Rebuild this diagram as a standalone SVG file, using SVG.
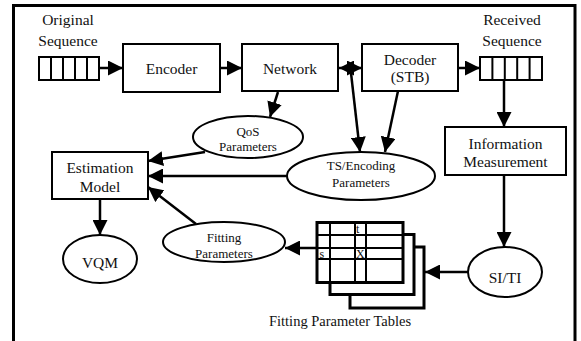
<svg xmlns="http://www.w3.org/2000/svg" width="581" height="341" viewBox="0 0 581 341">
<defs>
<marker id="ah" markerUnits="userSpaceOnUse" markerWidth="16" markerHeight="15" refX="15" refY="7.5" orient="auto-start-reverse">
<path d="M0,0 L15,7.5 L0,15 z" fill="#000"/>
</marker>
<style>
text{font-family:"Liberation Serif","Times New Roman",serif;fill:#111;text-anchor:middle}
.l{font-size:15.5px}
.s{font-size:13px}
.c{font-size:14.5px}
.g{font-size:12px;text-anchor:start}
.box{fill:#fff;stroke:#000;stroke-width:2}
.el{fill:#fff;stroke:#000;stroke-width:2}
.tb{fill:#fff;stroke:#000;stroke-width:3}
.gr{stroke:#000;stroke-width:2;fill:none}
.cn{stroke:#000;stroke-width:2.5;fill:none;marker-end:url(#ah)}
</style>
</defs>
<rect x="0" y="0" width="581" height="341" fill="#fff"/>
<rect x="13.5" y="5.5" width="561.5" height="340" fill="none" stroke="#000" stroke-width="3"/>

<g id="connectors">
<line class="cn" x1="99" y1="68" x2="123" y2="68"/>
<line class="cn" x1="220" y1="68" x2="242" y2="68"/>
<line class="cn" x1="339" y1="68" x2="362" y2="68" style="marker-start:url(#ah)"/>
<line class="cn" x1="458" y1="68" x2="480" y2="68"/>
<line class="cn" x1="504" y1="80" x2="504" y2="127"/>
<line class="cn" x1="504" y1="175" x2="504" y2="247"/>
<line class="cn" x1="351" y1="73" x2="360" y2="152"/>
<line class="cn" x1="398" y1="91" x2="385" y2="152"/>
<line class="cn" x1="278" y1="92" x2="270" y2="117"/>
<line class="cn" x1="205" y1="152" x2="148" y2="161"/>
<line class="cn" x1="287" y1="176" x2="148" y2="176"/>
<line class="cn" x1="196" y1="224" x2="148" y2="187"/>
<line class="cn" x1="100" y1="199" x2="100" y2="235"/>
<line class="cn" x1="318" y1="248" x2="285" y2="248"/>
<line class="cn" x1="468" y1="272" x2="425" y2="272"/>
</g>

<g id="original-sequence">
<text class="l" x="68" y="25">Original</text>
<text class="l" x="68" y="46">Sequence</text>
<rect class="box" x="39" y="57" width="60" height="23"/>
<path class="gr" d="M51,57V80M63,57V80M75,57V80M87,57V80"/>
</g>

<g id="encoder">
<rect class="box" x="123" y="44" width="97" height="48"/>
<text class="l" x="171.5" y="74">Encoder</text>
</g>

<g id="network">
<rect class="box" x="242" y="44" width="96" height="47"/>
<text class="l" x="290" y="74">Network</text>
</g>

<g id="decoder">
<rect class="box" x="362" y="44" width="96" height="47"/>
<text class="l" x="410" y="65">Decoder</text>
<text class="l" x="410" y="82">(STB)</text>
</g>

<g id="received-sequence">
<text class="l" x="512" y="25">Received</text>
<text class="l" x="512" y="46">Sequence</text>
<rect class="box" x="480" y="57" width="62" height="23"/>
<path class="gr" d="M492.4,57V80M504.8,57V80M517.2,57V80M529.6,57V80"/>
</g>

<g id="information-measurement">
<rect class="box" x="445" y="127" width="121" height="48"/>
<text class="l" x="505.5" y="149">Information</text>
<text class="l" x="505.5" y="167">Measurement</text>
</g>

<g id="qos-parameters">
<ellipse class="el" cx="248" cy="137" rx="55" ry="21"/>
<text class="s" x="248" y="136">QoS</text>
<text class="s" x="248" y="151">Parameters</text>
</g>

<g id="ts-encoding-parameters">
<ellipse class="el" cx="361" cy="176" rx="74" ry="24"/>
<text class="s" x="361" y="170">TS/Encoding</text>
<text class="s" x="361" y="187">Parameters</text>
</g>

<g id="estimation-model">
<rect class="box" x="52" y="152" width="96" height="47"/>
<text class="l" x="100" y="173">Estimation</text>
<text class="l" x="100" y="192">Model</text>
</g>

<g id="vqm">
<ellipse class="el" cx="100" cy="259" rx="37" ry="24"/>
<text class="l" x="100" y="268">VQM</text>
</g>

<g id="fitting-parameters">
<ellipse class="el" cx="224" cy="242" rx="61" ry="20"/>
<text class="s" x="224" y="242">Fitting</text>
<text class="s" x="224" y="258">Parameters</text>
</g>

<g id="fitting-parameter-tables">
<rect class="tb" x="350" y="247" width="74" height="61"/>
<rect class="tb" x="330" y="234.5" width="84" height="60"/>
<rect class="tb" x="317" y="222.5" width="86" height="60"/>
<path class="gr" d="M317,235H403M317,248H403M317,259H403M330,222.5V282.5M355,222.5V282.5M366,222.5V282.5"/>
<text class="g" x="356" y="233">t</text>
<text class="g" x="319.5" y="258">s</text>
<text class="g" x="356" y="258">X</text>
<text class="c" x="340" y="326">Fitting Parameter Tables</text>
</g>

<g id="si-ti">
<ellipse class="el" cx="505" cy="272" rx="37" ry="25"/>
<text class="l" x="505" y="283">SI/TI</text>
</g>
</svg>
